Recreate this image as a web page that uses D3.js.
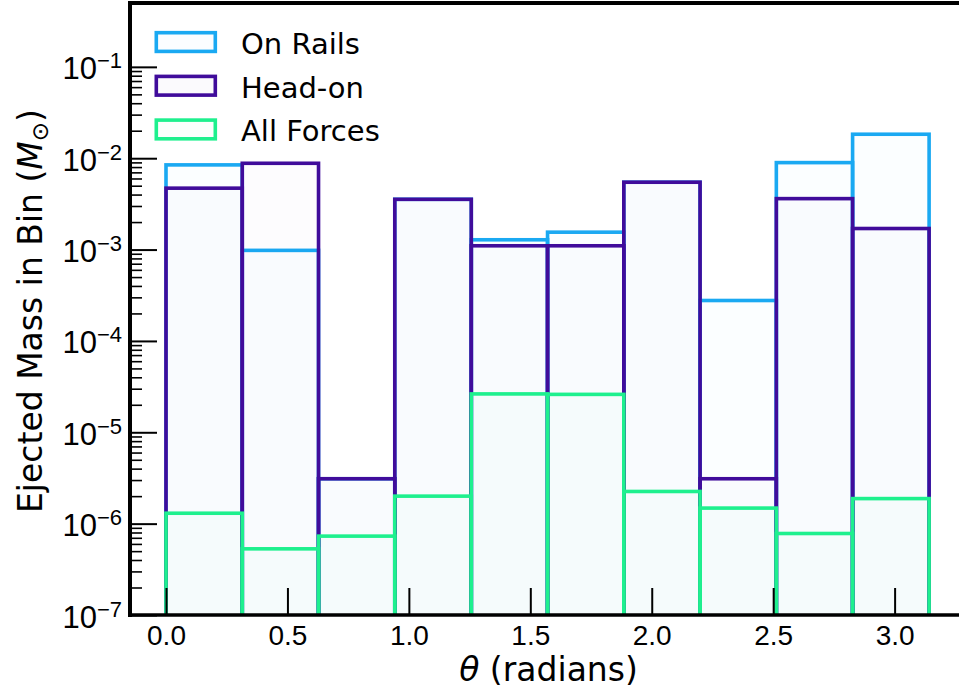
<!DOCTYPE html>
<html lang="en">
<head>
<meta charset="UTF-8">
<title>Ejected Mass vs Theta</title>
<style>
    body { margin: 0; background: #fff; }
    svg { display: block; font-family: "DejaVu Sans", sans-serif; }
    .tick line { stroke: #000; }
</style>
</head>
<body>
<div id="chart"></div>
<script src="https://d3js.org/d3.v7.min.js"></script>
<script>
// bin edges in radians (10 bins from 0 to pi)
const binEdges = [0, 0.314, 0.628, 0.942, 1.257, 1.571, 1.885, 2.199, 2.513, 2.827, 3.142];

// ejected mass per bin (solar masses)
const onRails   = [8.45e-3, 9.8e-4, 3.1e-6, 3.55e-3, 1.28e-3, 1.55e-3, 5.46e-3, 2.77e-4, 8.95e-3, 1.83e-2];
const headOn    = [4.7e-3, 8.8e-3, 3.1e-6, 3.55e-3, 1.1e-3, 1.1e-3, 5.46e-3, 3.1e-6, 3.61e-3, 1.7e-3];
const allForces = [1.3e-6, 5.3e-7, 7.3e-7, 2.0e-6, 2.63e-5, 2.6e-5, 2.25e-6, 1.48e-6, 7.8e-7, 1.88e-6];

const seriesNames  = ["On Rails", "Head-on", "All Forces"];
const seriesColors = ["#1aa9f2", "#400c9b", "#1ef08e"];
const seriesFill   = [0.015, 0.01, 0.02];

const xTicks = [0, 0.5, 1.0, 1.5, 2.0, 2.5, 3.0];
const yTicks = [1e-7, 1e-6, 1e-5, 1e-4, 1e-3, 1e-2, 1e-1];

const W = 959, H = 692;
const pLeft = 130, pBottom = 615, pTop = 3, pRight = 968;

const svg = d3.select("#chart").append("svg")
    .attr("width", W).attr("height", H);

const x = d3.scaleLinear().domain([0, Math.PI]).range([166, 929]);
const y = d3.scaleLog().domain([1e-7, 0.5]).range([pBottom, pTop]);

svg.append("clipPath").attr("id", "plot-clip")
    .append("rect")
    .attr("x", pLeft).attr("y", pTop)
    .attr("width", pRight - pLeft).attr("height", pBottom - pTop);

const plot = svg.append("g").attr("clip-path", "url(#plot-clip)");

const series = [onRails, headOn, allForces];
series.forEach((vals, si) => {
    plot.append("g")
        .selectAll("rect")
        .data(vals)
        .join("rect")
        .attr("x", (d, i) => x(binEdges[i]))
        .attr("width", (d, i) => x(binEdges[i + 1]) - x(binEdges[i]))
        .attr("y", d => y(d))
        .attr("height", d => pBottom + 20 - y(d))
        .attr("fill", seriesColors[si])
        .attr("fill-opacity", seriesFill[si])
        .attr("stroke", seriesColors[si])
        .attr("stroke-width", 3.6);
});

// x axis (ticks inside)
const xAxis = svg.append("g")
    .attr("transform", `translate(0,${pBottom})`)
    .call(d3.axisBottom(x).tickValues(xTicks).tickSizeInner(-27).tickSizeOuter(0)
        .tickPadding(10).tickFormat(d3.format(".1f")));
xAxis.select(".domain").remove();
xAxis.selectAll(".tick line").attr("stroke-width", 2);
xAxis.selectAll(".tick text").attr("font-size", 28).attr("fill", "#000");

// y axis minor ticks
const minor = [];
yTicks.slice(0, -1).forEach(t => { for (let k = 2; k <= 9; k++) minor.push(t * k); });
const yMinor = svg.append("g")
    .attr("transform", `translate(${pLeft},0)`)
    .call(d3.axisLeft(y).tickValues(minor.filter(v => v <= 0.5)).tickSizeInner(-12).tickSizeOuter(0).tickFormat(""));
yMinor.select(".domain").remove();
yMinor.selectAll(".tick line").attr("stroke-width", 1.6);

// y axis major ticks
const yAxis = svg.append("g")
    .attr("transform", `translate(${pLeft},0)`)
    .call(d3.axisLeft(y).tickValues(yTicks).tickSizeInner(-27).tickSizeOuter(0).tickPadding(8).tickFormat(""));
yAxis.select(".domain").remove();
yAxis.selectAll(".tick line").attr("stroke-width", 2);
yAxis.selectAll(".tick text")
    .attr("font-size", 31).attr("fill", "#000").attr("text-anchor", "end").attr("dy", "12")
    .each(function (d) {
        const t = d3.select(this);
        t.append("tspan").text("10");
        t.append("tspan").attr("font-size", 22).attr("dy", -11)
            .text("\u2212" + Math.round(-Math.log10(d)));
    });

// spines
svg.append("line").attr("x1", pLeft).attr("x2", pLeft).attr("y1", pTop - 2).attr("y2", pBottom + 2)
    .attr("stroke", "#000").attr("stroke-width", 4);
svg.append("line").attr("x1", pLeft - 2).attr("x2", pRight).attr("y1", pBottom).attr("y2", pBottom)
    .attr("stroke", "#000").attr("stroke-width", 3.6);
svg.append("line").attr("x1", pLeft - 2).attr("x2", pRight).attr("y1", pTop).attr("y2", pTop)
    .attr("stroke", "#000").attr("stroke-width", 4);

// legend
const legend = svg.append("g");
seriesNames.forEach((name, i) => {
    const ly = 32.7 + i * 43.7;
    legend.append("rect")
        .attr("x", 156.3).attr("y", ly).attr("width", 59).attr("height", 18.7)
        .attr("fill", seriesColors[i]).attr("fill-opacity", 0.02)
        .attr("stroke", seriesColors[i]).attr("stroke-width", 3.6);
    legend.append("text")
        .attr("x", 241).attr("y", ly + 21.3)
        .attr("font-size", 29).attr("fill", "#000")
        .text(name);
});

// axis labels
const xl = svg.append("text")
    .attr("x", (166 + 929) / 2 + 1).attr("y", 681)
    .attr("text-anchor", "middle").attr("font-size", 33).attr("fill", "#000");
xl.append("tspan").attr("font-style", "italic").text("\u03b8");
xl.append("tspan").text(" (radians)");

const yl = svg.append("text")
    .attr("transform", `translate(42,${(pTop + pBottom) / 2 + 2}) rotate(-90)`)
    .attr("text-anchor", "middle").attr("font-size", 33).attr("fill", "#000");
yl.append("tspan").text("Ejected Mass in Bin (");
yl.append("tspan").attr("font-style", "italic").text("M");
yl.append("tspan").attr("font-size", 23).attr("dy", 6).text("\u2299");
yl.append("tspan").attr("dy", -6).text(")");
</script>
</body>
</html>
